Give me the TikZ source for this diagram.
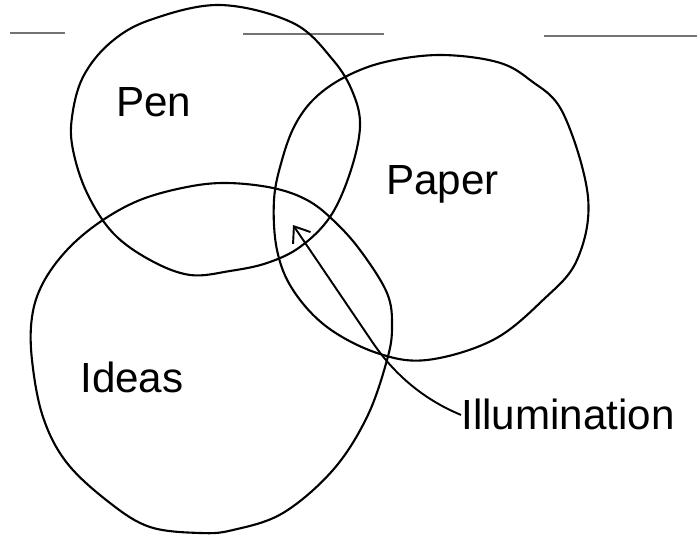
\documentclass[tikz,border=0pt]{standalone}
\usepackage{fontspec}
\setmainfont{Liberation Sans}
\usetikzlibrary{arrows.meta}

\begin{document}
\begin{tikzpicture}[
  x=0.02cm, y=-0.02cm,
  every node/.style={font=\fontsize{24}{28}\selectfont, inner sep=0pt},
  ring/.style={draw, line width=1.2pt, line join=round},
  rule/.style={draw=black!55, line width=0.7pt},
  lbl/.style={anchor=base west},
  arr/.style={-{Straight Barb[length=8pt,width=12pt]}, line width=1.1pt},
]
  \useasboundingbox (0,0) rectangle (697,536);

  % Ruled line of the sheet
  \draw[rule] (10,33) -- (65,33);
  \draw[rule] (243,34) -- (384,34);
  \draw[rule] (544,36) -- (697,36);

  % Circles
  \draw[ring] plot[smooth cycle, tension=0.6] coordinates {
    (220,5) (293,23) (333,60) (353,93) (360,127) (350,173) (330,217)
    (300,247) (267,263) (230,271) (190,275) (150,260) (113,233)
    (87,193) (73,150) (72,117) (83,77) (110,43) (150,20)};
  \draw[ring] plot[smooth cycle, tension=0.6] coordinates {
    (440,55) (497,62) (530,80) (563,113) (588,197) (577,260) (543,300)
    (493,340) (427,360) (377,353) (327,327) (293,290) (277,250)
    (274,200) (282,160) (295,125) (315,98) (345,77) (385,62)};
  \draw[ring] plot[smooth cycle, tension=0.6] coordinates {
    (227,183) (273,188) (307,200) (333,220) (360,250) (387,293)
    (392,327) (387,360) (367,417) (333,470) (283,513) (233,530)
    (200,533) (150,527) (110,503) (67,463) (43,417) (32,360)
    (32,317) (43,283) (67,250) (100,222) (140,200) (187,187)};

  % Labels
  \node[lbl] (pen)   at (116,117) {Pen};
  \node[lbl] (paper) at (386,195) {Paper};
  \node[lbl] (ideas) at (80,393)  {Ideas};
  \node[lbl] (illum) at (461,430) {Illumination};

  % Arrow
  \coordinate (spark) at (293,225);
  \draw[arr] (illum.west) .. controls (415,396) and (388,365) .. (373,343)
    -- (spark);
\end{tikzpicture}
\end{document}
